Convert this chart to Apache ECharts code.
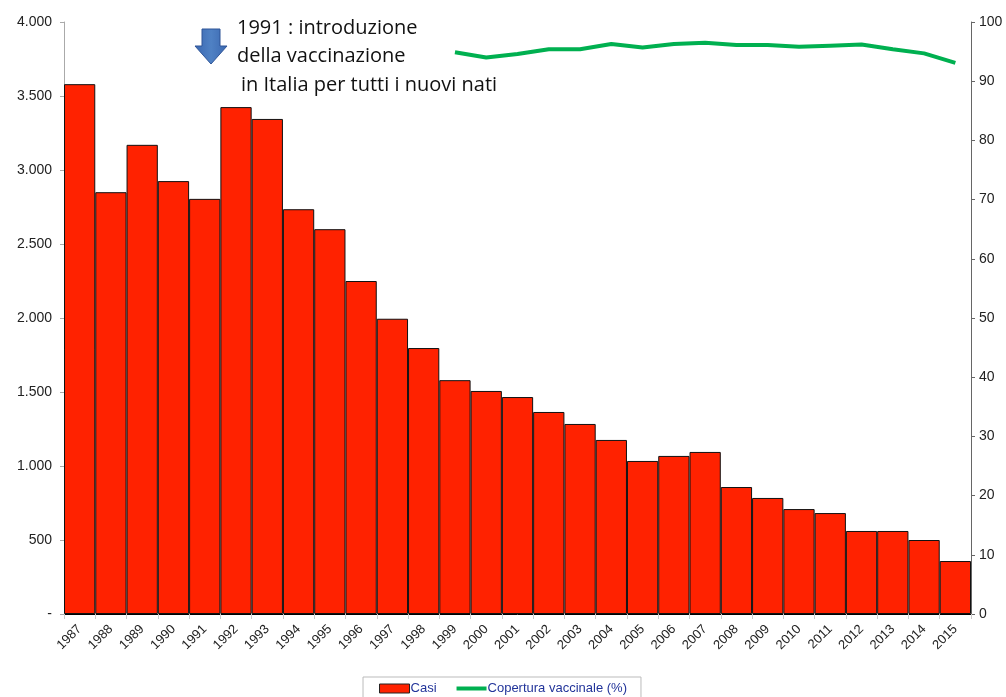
<!DOCTYPE html>
<html>
<head>
<meta charset="utf-8">
<script src="https://cdn.jsdelivr.net/npm/echarts@6/dist/echarts.min.js"></script>
<style>
  html, body { margin: 0; padding: 0; background: #fff; }
  #chart { width: 1006px; height: 697px; }
</style>
</head>
<body>
<div id="chart"></div>
<script>
// anni 1987-2015
const anni = ['1987','1988','1989','1990','1991','1992','1993','1994','1995','1996',
  '1997','1998','1999','2000','2001','2002','2003','2004','2005','2006',
  '2007','2008','2009','2010','2011','2012','2013','2014','2015']
// casi notificati
const casi = [3580, 2850, 3170, 2925, 2805, 3425, 3345, 2735, 2600, 2250,
  1995, 1797, 1580, 1507, 1466, 1365, 1284, 1176, 1034, 1068,
  1095, 858, 784, 709, 682, 561, 561, 500, 358]
// copertura vaccinale (%) dal 1999
const copertura = [null, null, null, null, null, null, null, null, null, null,
  null, null, 94.9, 94.0, 94.6, 95.4, 95.4, 96.3, 95.7, 96.3,
  96.5, 96.1, 96.1, 95.8, 96.0, 96.2, 95.4, 94.7, 93.1]

const fmt = function (v) {
  if (v === 0) return '-'
  return String(v).replace(/\B(?=(\d{3})+(?!\d))/g, '.')
}

let myChart = echarts.init(document.getElementById('chart'))
myChart.setOption({
  animation: false,
  textStyle: { fontFamily: 'Liberation Sans, Arial, sans-serif' },
  grid: { left: 64, right: 35, top: 22, bottom: 83 },
  legend: {
    bottom: -6,
    left: 'center',
    padding: [5, 14, 8, 16],
    borderColor: '#bbb',
    borderWidth: 1,
    itemGap: 20,
    itemWidth: 30,
    itemHeight: 9,
    textStyle: { color: '#22349a', fontSize: 13, padding: [0, 0, 0, -4] },
    data: [
      { name: 'Casi', icon: 'rect', itemStyle: { color: '#ff2200', borderColor: '#222', borderWidth: 1 } },
      { name: 'Copertura vaccinale (%)', icon: 'path://M0,0 H30 V4 H0 Z' }
    ]
  },
  xAxis: {
    type: 'category',
    data: anni,
    axisLine: { lineStyle: { color: '#000', width: 1 } },
    axisTick: { show: true, length: 5, lineStyle: { color: '#ccc' } },
    axisLabel: { rotate: 45, color: '#222', fontSize: 13, margin: 13 }
  },
  yAxis: [
    {
      type: 'value',
      min: 0, max: 4000, interval: 500,
      splitLine: { show: false },
      axisLine: { show: true, lineStyle: { color: '#aaa' } },
      axisTick: { show: true, length: 4, lineStyle: { color: '#aaa' } },
      axisLabel: { color: '#222', fontSize: 14, margin: 12, formatter: fmt }
    },
    {
      type: 'value',
      min: 0, max: 100, interval: 10,
      splitLine: { show: false },
      axisLine: { show: true, lineStyle: { color: '#666' } },
      axisTick: { show: true, length: 4, lineStyle: { color: '#666' } },
      axisLabel: { color: '#222', fontSize: 14, margin: 8 }
    }
  ],
  series: [
    {
      name: 'Casi',
      type: 'bar',
      data: casi,
      barCategoryGap: '0%',
      itemStyle: { color: '#ff2200', borderColor: '#111', borderWidth: 1 }
    },
    {
      name: 'Copertura vaccinale (%)',
      type: 'line',
      yAxisIndex: 1,
      data: copertura,
      symbol: 'none',
      itemStyle: { color: '#00b050' },
      lineStyle: { color: '#00b050', width: 4 }
    }
  ],
  graphic: [
    {
      type: 'polygon',
      shape: { points: [[202, 29], [220, 29], [220, 46], [227, 46], [211, 64], [195, 46], [202, 46]] },
      style: {
        fill: new echarts.graphic.LinearGradient(0, 0, 1, 0, [
          { offset: 0, color: '#3a67b0' }, { offset: 0.5, color: '#4f81c4' }, { offset: 1, color: '#3a67b0' }
        ]),
        stroke: '#2f5597', lineWidth: 1
      }
    },
    {
      type: 'text', left: 237, top: 18,
      style: { text: '1991 : introduzione', fill: '#111', font: '20px "Open Sans", sans-serif' }
    },
    {
      type: 'text', left: 237, top: 46,
      style: { text: 'della vaccinazione', fill: '#111', font: '20px "Open Sans", sans-serif' }
    },
    {
      type: 'text', left: 241, top: 75,
      style: { text: 'in Italia per tutti i nuovi nati', fill: '#111', font: '20px "Open Sans", sans-serif' }
    }
  ]
})
</script>
</body>
</html>
